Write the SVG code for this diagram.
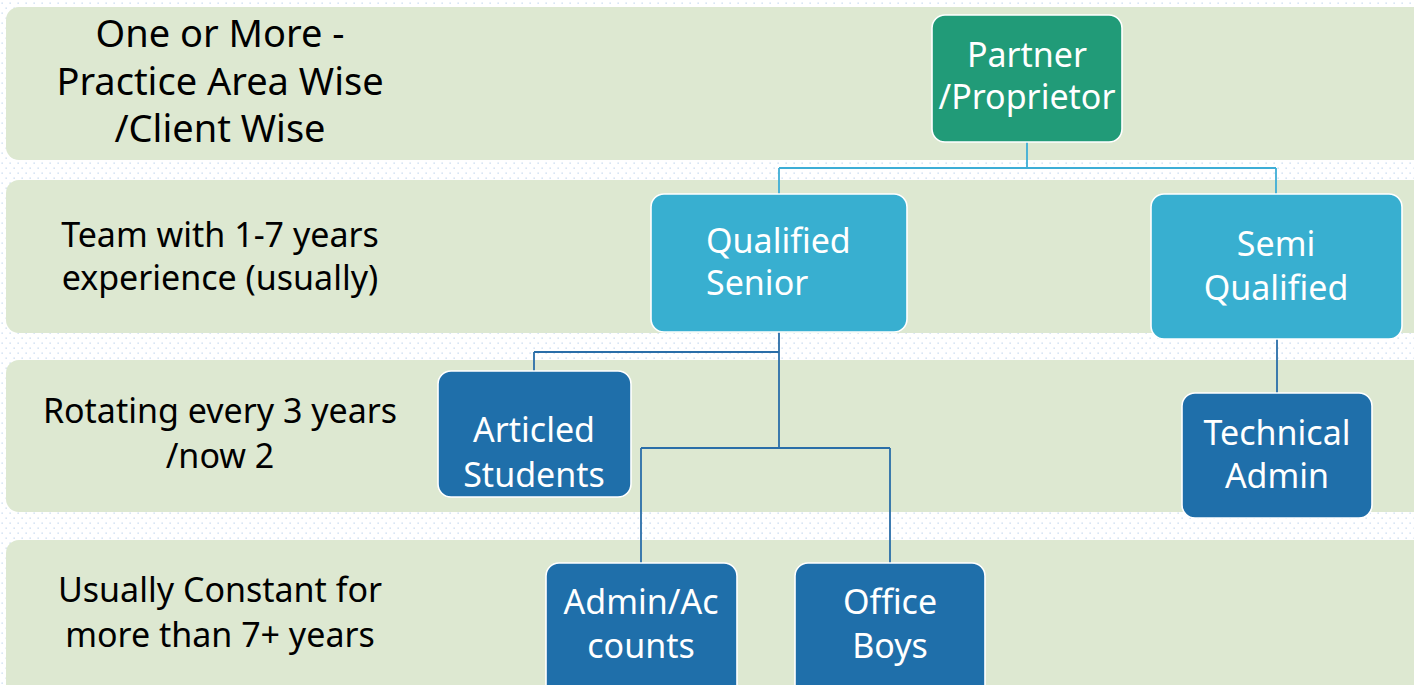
<svg xmlns="http://www.w3.org/2000/svg" width="1414" height="685" viewBox="0 0 1414 685">
  <defs>
    <pattern id="dots" width="8" height="10" patternUnits="userSpaceOnUse">
      <rect x="1.5" y="2.5" width="1.3" height="1.3" fill="#c3d7ee"/>
      <rect x="5.5" y="7.5" width="1.3" height="1.3" fill="#c3d7ee"/>
    </pattern>
    <style>
      .band { fill: #dde8d1; }
      .lbl { font-family: "Noto Sans", "Open Sans", sans-serif; fill: #000; text-anchor: middle; }
      .box { stroke: #ffffff; stroke-width: 1.6; }
      .top { fill: #219b78; }
      .mid { fill: #38afd0; }
      .low { fill: #1f6faa; }
      .txt { font-family: "Noto Sans", "Open Sans", sans-serif; fill: #ffffff; text-anchor: middle; font-size: 34px; }
      .start { text-anchor: start; }
      .lite { stroke: #3eaed6; stroke-width: 1.8; fill: none; }
      .dark { stroke: #2a6ea8; stroke-width: 1.8; fill: none; }
    </style>
  </defs>

  <!-- dotted backdrop -->
  <rect x="0" y="0" width="1414" height="685" fill="#ffffff"/>
  <rect x="0" y="0" width="1414" height="685" fill="url(#dots)"/>

  <!-- level bands -->
  <g id="bands">
    <rect class="band" x="6" y="7" width="1430" height="153" rx="13"/>
    <rect class="band" x="6" y="180" width="1430" height="153" rx="13"/>
    <rect class="band" x="6" y="360" width="1430" height="152" rx="13"/>
    <rect class="band" x="6" y="540" width="1430" height="160" rx="13"/>
  </g>

  <!-- level descriptions -->
  <g id="level-labels">
    <text class="lbl" font-size="38" x="220" y="47">One or More -</text>
    <text class="lbl" font-size="38" x="220" y="95">Practice Area Wise</text>
    <text class="lbl" font-size="38" x="220" y="142">/Client Wise</text>
    <text class="lbl" font-size="34" x="220" y="247">Team with 1-7 years</text>
    <text class="lbl" font-size="34" x="220" y="290">experience (usually)</text>
    <text class="lbl" font-size="34" x="220" y="423">Rotating every 3 years</text>
    <text class="lbl" font-size="34" x="220" y="468">/now 2</text>
    <text class="lbl" font-size="34" x="220" y="602">Usually Constant for</text>
    <text class="lbl" font-size="34" x="220" y="647">more than 7+ years</text>
  </g>

  <!-- connectors -->
  <g id="connectors">
    <path class="lite" d="M1027 142 V168 M779 168 H1276 M779 168 V194 M1276 168 V194"/>
    <path class="dark" d="M779 332 V448 M534 352 H779 M534 352 V371 M641 448 H890 M641 448 V563 M890 448 V563"/>
    <path class="dark" d="M1277 339 V393"/>
  </g>

  <g id="partner">
    <rect class="box top" x="932" y="15" width="190" height="127" rx="13"/>
    <text class="txt" font-size="30" x="1027" y="67">Partner</text>
    <text class="txt" font-size="30" x="1027" y="109">/Proprietor</text>
  </g>

  <g id="qualified-senior">
    <rect class="box mid" x="651" y="194" width="256" height="138" rx="13"/>
    <text class="txt start" x="706" y="253">Qualified</text>
    <text class="txt start" x="706" y="295">Senior</text>
  </g>

  <g id="semi-qualified">
    <rect class="box mid" x="1151" y="194" width="251" height="145" rx="13"/>
    <text class="txt" x="1276" y="256">Semi</text>
    <text class="txt" x="1276" y="300">Qualified</text>
  </g>

  <g id="articled-students">
    <rect class="box low" x="438" y="371" width="193" height="126" rx="13"/>
    <text class="txt" x="534" y="442">Articled</text>
    <text class="txt" x="534" y="487">Students</text>
  </g>

  <g id="technical-admin">
    <rect class="box low" x="1182" y="393" width="190" height="125" rx="13"/>
    <text class="txt" x="1277" y="445">Technical</text>
    <text class="txt" x="1277" y="488">Admin</text>
  </g>

  <g id="admin-accounts">
    <rect class="box low" x="546" y="563" width="191" height="135" rx="13"/>
    <text class="txt" x="641" y="614">Admin/Ac</text>
    <text class="txt" x="641" y="658">counts</text>
  </g>

  <g id="office-boys">
    <rect class="box low" x="795" y="563" width="190" height="135" rx="13"/>
    <text class="txt" x="890" y="614">Office</text>
    <text class="txt" x="890" y="658">Boys</text>
  </g>
</svg>
